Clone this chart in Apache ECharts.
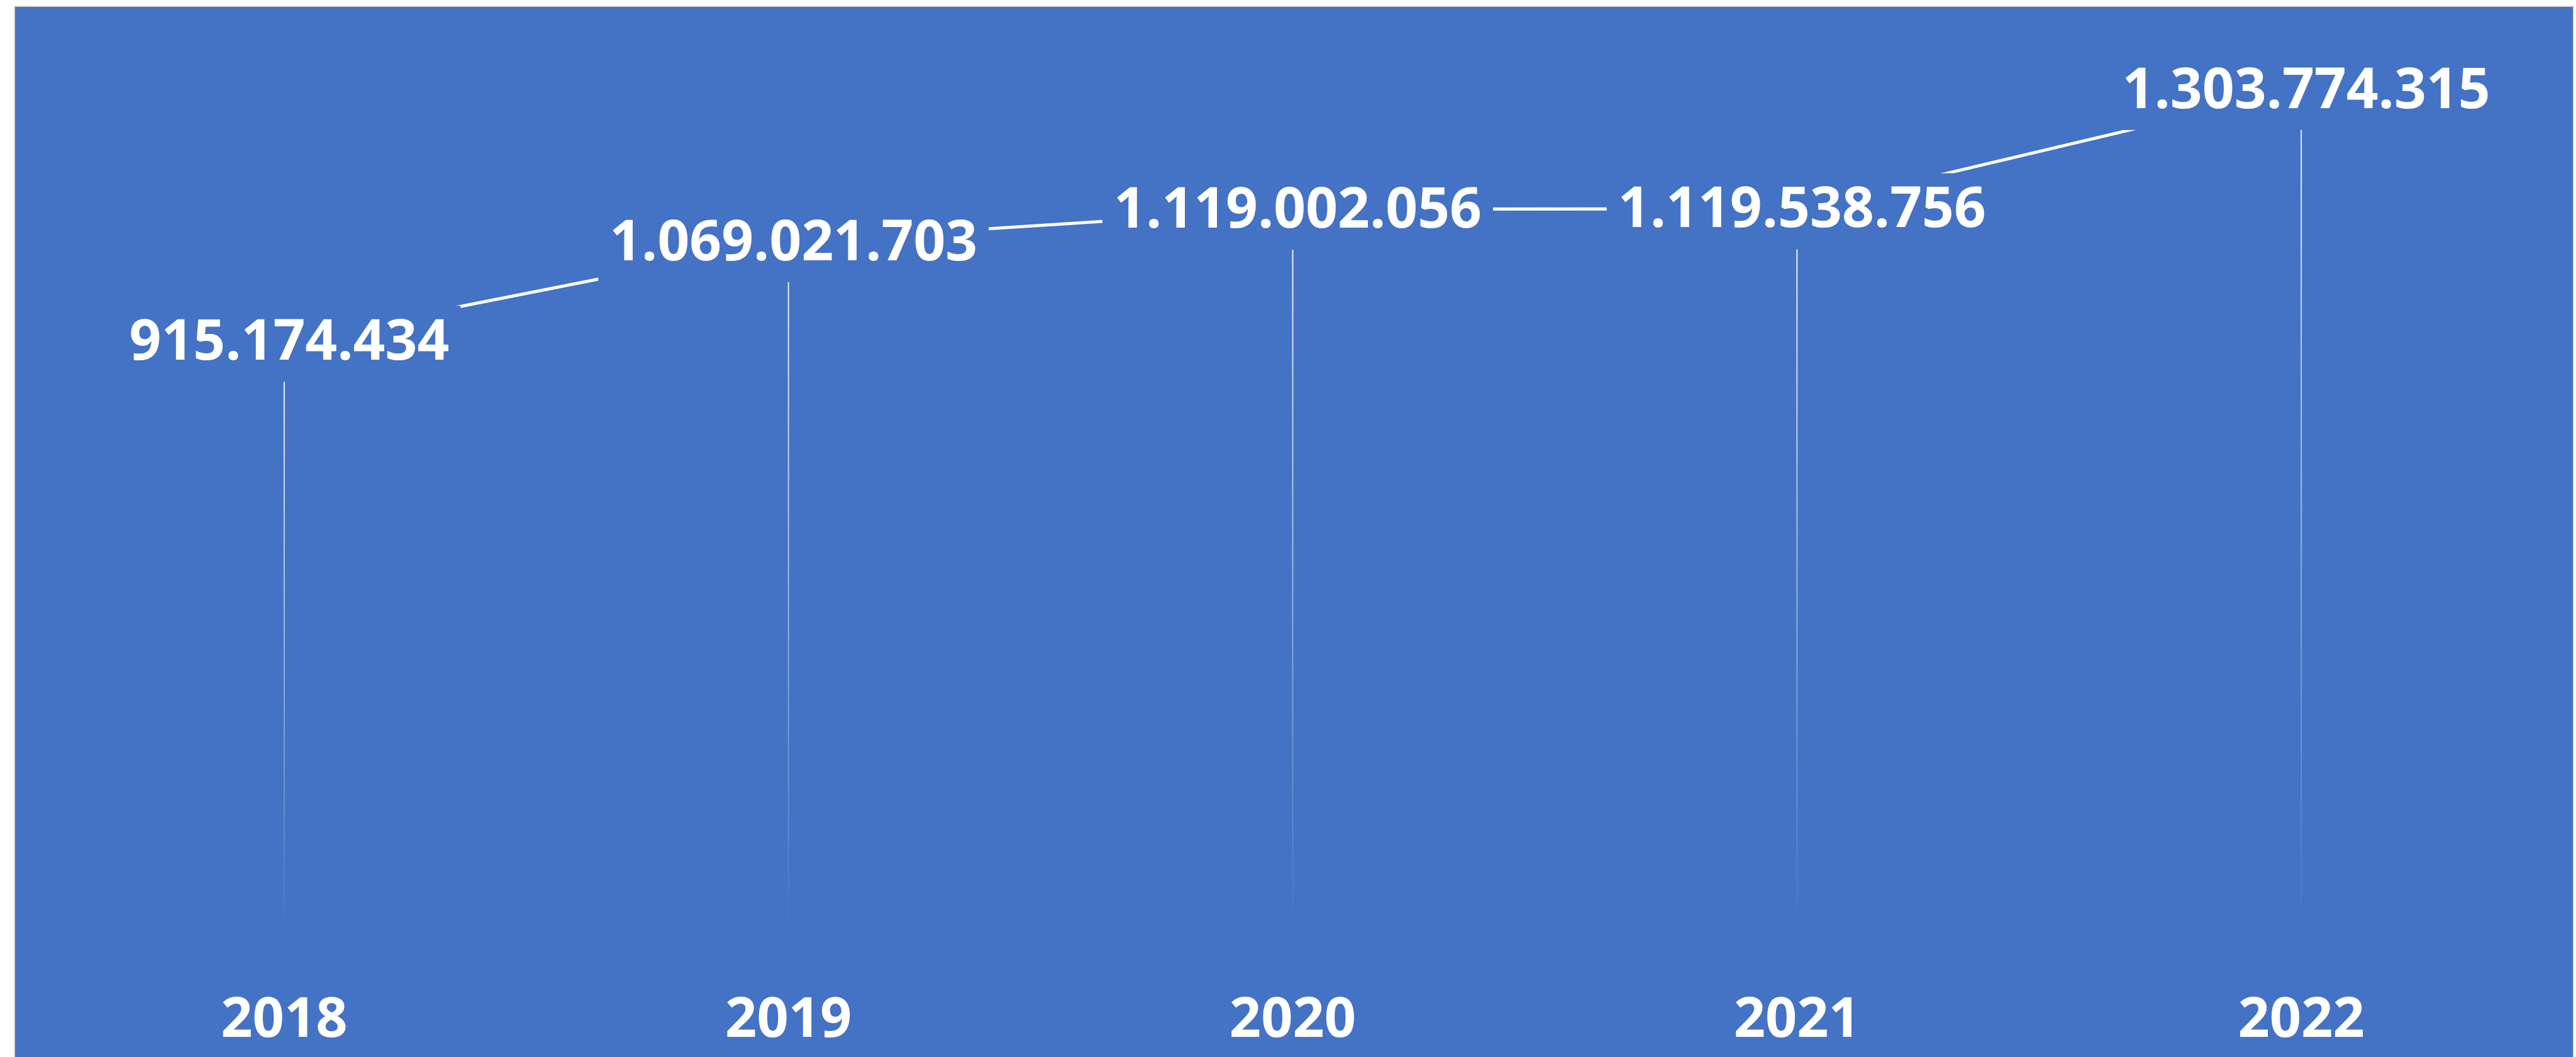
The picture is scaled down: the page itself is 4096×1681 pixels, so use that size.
<!DOCTYPE html>
<html>
<head>
<meta charset="utf-8">
<script src="https://cdn.jsdelivr.net/npm/echarts@6/dist/echarts.min.js"></script>
<style>
  html, body { margin: 0; padding: 0; background: #fff; }
  #chart { width: 4096px; height: 1681px; }
</style>
</head>
<body>
<div id="chart"></div>
<script>
  // data
  var years = ['2018', '2019', '2020', '2021', '2022'];
  var totals = [915174434, 1069021703, 1119002056, 1119538756, 1303774315];

  var blue = '#4472C4';

  function dots(v) {
    return String(v).replace(/\B(?=(\d{3})+(?!\d))/g, '.');
  }

  var chart = echarts.init(document.getElementById('chart'));
  chart.setOption({
    animation: false,
    backgroundColor: '#ffffff',
    graphic: [{
      type: 'rect',
      z: -10,
      shape: { x: 23, y: 10, width: 4069, height: 1690 },
      style: { fill: blue, stroke: '#d9d9d9', lineWidth: 2 }
    }],
    grid: {
      left: 51,
      right: 36,
      top: 43,
      bottom: 195
    },
    xAxis: {
      type: 'category',
      data: years,
      axisLine: { show: false },
      axisTick: { show: false },
      axisLabel: {
        margin: 94,
        color: '#fff',
        fontFamily: 'Open Sans',
        fontWeight: 'bold',
        fontSize: 88
      }
    },
    yAxis: {
      type: 'value',
      min: 0,
      max: 1400000000,
      show: false
    },
    series: [
      {
        // drop lines fading towards the axis
        type: 'bar',
        data: totals,
        barWidth: 2,
        silent: true,
        z: 1,
        itemStyle: {
          color: new echarts.graphic.LinearGradient(0, 0, 0, 1, [
            { offset: 0, color: 'rgba(255,255,255,0.95)' },
            { offset: 1, color: 'rgba(255,255,255,0)' }
          ])
        }
      },
      {
        type: 'line',
        data: totals,
        z: 3,
        symbol: 'circle',
        symbolSize: 1,
        itemStyle: { color: blue },
        lineStyle: { color: '#fff', width: 5 },
        label: {
          show: true,
          position: 'inside',
          offset: [8, 4],
          formatter: function (p) { return dots(p.value); },
          color: '#fff',
          fontFamily: 'Open Sans',
          fontWeight: 'bold',
          fontSize: 89,
          backgroundColor: blue,
          padding: [16, 18]
        }
      }
    ]
  });
</script>
</body>
</html>
